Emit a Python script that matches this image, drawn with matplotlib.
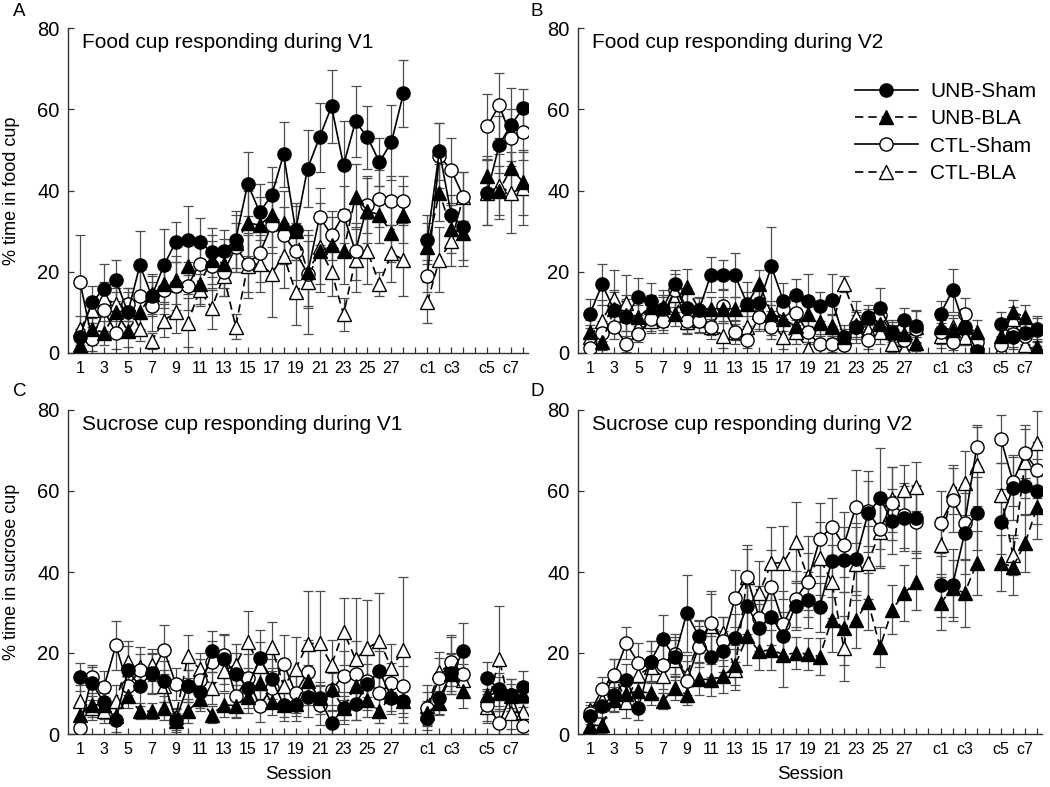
import matplotlib
matplotlib.use("Agg")
import matplotlib.pyplot as plt
from matplotlib.ticker import FixedLocator

plt.rcParams['font.family'] = ['Liberation Sans', 'DejaVu Sans']

# ---------------- data ----------------
sessions = [str(i) for i in range(1, 29)] + ['c1', 'c2', 'c3', 'c4', 'c5', 'c6', 'c7', 'c8']
tick_labels = ['1', '3', '5', '7', '9', '11', '13', '15', '17', '19', '21', '23', '25', '27',
               'c1', 'c3', 'c5', 'c7']
groups = ['UNB-Sham', 'UNB-BLA', 'CTL-Sham', 'CTL-BLA']
panel_titles = ['Food cup responding during V1', 'Food cup responding during V2',
                'Sucrose cup responding during V1', 'Sucrose cup responding during V2']
panel_letters = ['A', 'B', 'C', 'D']
ylabels = ['% time in food cup', '% time in sucrose cup']

# Panel A: food cup, V1
A_unb_sham = [4, 12.5, 15.8, 17.9, 10, 21.6, 14, 21.6, 27.3, 27.7, 27.3, 24.8, 25.2, 27.9,
              41.6, 34.7, 38.8, 48.9, 30.2, 45.4, 53.1, 60.7, 46.2, 57.0, 53.1, 47.0, 51.9, 63.9,
              27.9, 49.7, 33.9, 31.0, 39.5, 51.3, 56.2, 60.3]
A_unb_bla = [2, 6, 5, 10, 5.5, 10, 14.5, 17, 18, 21.5, 17, 23, 22, 27,
             32, 31.5, 34, 32, 30, 20, 25, 26.5, 25, 38.5, 35, 34, 29.5, 34,
             26, 39.5, 30.5, 29.5, 43.5, 40, 45.5, 42]
A_ctl_sham = [17.5, 3.5, 10.5, 5, 12, 14, 11.5, 15.5, 16.5, 16.5, 22, 21.5, 20, 26,
              22, 24.5, 31.5, 29, 25, 19.5, 33.5, 29, 34, 25, 36.5, 38, 37.5, 37.5,
              19, 48.5, 45, 38.5, 55.8, 61, 53, 54.5]
A_ctl_bla = [6, 10.5, 13.5, 12, 12, 6, 3, 8, 10, 7.5, 15.5, 11, 19, 6.5,
             21.5, 22, 19.5, 24, 15, 17.5, 26, 20, 9.5, 23, 25, 17, 24.5, 23,
             12.5, 23, 27.5, 38.5, 39.5, 41, 39.5, 40.5]
A_unb_sham_err = [2, 4, 6, 5, 5, 8.5, 5, 9, 5, 8.5, 6, 6, 5, 7, 7.8, 7, 7, 8, 6, 9.4, 8.5, 9,
                  10.8, 8.7, 7.8, 6, 9.2, 8.3, 6, 7, 5, 8, 8, 7, 9, 4.7]
A_unb_bla_err = [3, 4, 3, 5, 4, 5, 5, 6, 6, 7, 5, 6, 6, 7, 8, 7, 8, 8, 7, 9, 8, 7, 8, 8, 8, 7,
                 7, 7, 6, 7, 6, 8, 5, 6, 7, 8]
A_ctl_sham_err = [11.5, 3, 5, 4, 4, 8, 6, 6, 6, 6, 6, 6, 6, 6, 7, 7, 7, 7, 7, 8, 7, 6, 7, 7,
                  7, 7, 6, 6, 4, 8, 8, 6, 8, 8, 7, 7]
A_ctl_bla_err = [3, 3, 4, 4, 4, 3, 2, 4, 5, 6, 4, 5, 5, 3, 8, 7, 10.6, 8, 8, 12.8, 11, 6, 4, 8,
                 8, 3, 7, 9, 5, 8, 6, 6, 8, 8, 10, 9]

# Panel B: food cup, V2
B_unb_sham = [9.7, 16.9, 10.5, 8.9, 13.9, 12.8, 10.9, 16.9, 11, 10.5, 19.3, 19.3, 19.1, 12.1,
              12.3, 21.3, 12.8, 14.3, 12.8, 11.5, 13.1, 3.9, 6.5, 8.9, 11.1, 5.2, 8.2, 6.6,
              9.7, 15.4, 6.4, 0.5, 7.2, 4, 5, 6]
B_unb_bla = [5.2, 2.7, 10.9, 9.3, 8.9, 11.3, 11.3, 9.7, 16.2, 10.9, 10.9, 10.9, 10.9, 12.1,
             17, 9.7, 8.4, 6.6, 9.7, 7.6, 6.4, 3.9, 7, 8.9, 7.2, 5.2, 4.8, 2.5,
             6.4, 5.6, 6.4, 5.2, 4.3, 10.1, 8.9, 1.5]
B_ctl_sham = [1.2, 5, 6.4, 2.3, 4.6, 8.4, 8.0, 15.4, 8.0, 8.0, 6.4, 11.5, 5.2, 3.3,
              8.9, 6.4, 10.9, 9.8, 5.2, 2.1, 2.3, 1.9, 6.4, 3.1, 9.4, 4.8, 3.1, 6.0,
              5.2, 2.7, 9.5, 2.7, 1.9, 4.6, 4.3, 5.6]
B_ctl_bla = [3.9, 8.0, 13.4, 12.3, 6.4, 8.0, 9.7, 14.2, 7.6, 8.2, 6.4, 4.3, 5.2, 6.4,
             10.5, 7.4, 3.9, 5.2, 1.1, 7.4, 6.6, 16.9, 8.9, 5.6, 5.2, 2.3, 1.1, 6.4,
             4.3, 6.4, 3.9, 2.7, 1.1, 8.4, 1.9, 0.7]
B_unb_sham_err = [3.5, 5, 5, 5.5, 4.5, 4.5, 4.5, 3.5, 5, 3, 4.3, 3.5, 5.4, 5.5, 4, 9.6, 4.5, 4,
                  6.7, 3.5, 6.4, 3, 4, 2, 5, 2.5, 3, 4, 3, 5.4, 4.5, 2, 3, 3, 3, 3]
B_unb_bla_err = [3, 2, 4, 4, 3, 3, 3, 3, 4.5, 3, 3, 3, 3, 3, 3.5, 3, 3, 3, 3, 3, 3, 2, 3, 3, 3,
                 3, 2.5, 2, 3, 3, 3, 3, 3, 3, 3, 2]
B_ctl_sham_err = [2, 3, 3, 2, 2, 3, 3, 4, 3, 3, 2, 4, 2, 2, 3, 3, 3, 3, 3, 2, 2, 2, 3, 2, 3, 2,
                  2, 2, 3, 2, 4, 2, 2, 3, 2, 3]
B_ctl_bla_err = [3, 5, 7, 7, 3, 3, 4, 4, 3, 3, 3, 3, 3, 4, 5, 3, 3, 3, 1.5, 4, 3, 2, 4, 3, 3, 2,
                 1.5, 4, 3, 3, 2, 2, 1, 3, 2, 1]

# Panel C: sucrose cup, V1
C_unb_sham = [14.1, 12.5, 7.8, 3.5, 15.7, 11.8, 15.1, 13, 3.5, 11.9, 10.3, 20.4, 18.4, 14.9,
              11.4, 18.7, 13.6, 7.2, 7.2, 9.1, 8.9, 2.7, 6.4, 7.5, 12.3, 15.6, 8.9, 8.1,
              4, 8.9, 15, 20.4, 13.8, 11, 9.7, 11.6]
C_unb_bla = [4.8, 7.2, 7.2, 4.4, 9.3, 5.6, 5.6, 6.4, 3.1, 5.6, 8.6, 4.8, 7.2, 7.0,
             9.1, 12.6, 7.8, 7.2, 7.5, 13, 8.9, 11.1, 6.4, 11.9, 8.3, 5.6, 9.7, 8.1,
             5.2, 7.7, 14.8, 10.5, 9.7, 10.1, 9.3, 9.7]
C_ctl_sham = [1.6, 14.1, 11.6, 21.9, 11.9, 15.7, 14.8, 20.8, 12.4, 11.9, 13.4, 17.9, 19.6, 9.3,
              13.8, 7.0, 11.4, 17.4, 10.1, 15.2, 7.2, 10.9, 14.4, 14.9, 13, 10.1, 12.6, 11.8,
              6.4, 13.8, 17.9, 14.7, 7.2, 2.7, 9.7, 1.9]
C_ctl_bla = [8.1, 6.4, 5.6, 8.1, 17.9, 16.5, 17.1, 11.8, 4.2, 19.2, 16, 11.4, 15.6, 17.1,
             22.8, 16.8, 21.6, 11.8, 16, 22.3, 22.4, 17.1, 25.3, 18.5, 21.2, 23, 16.3, 20.8,
             7, 15.2, 17.5, 13.4, 6.7, 18.6, 5.2, 5.5]
C_unb_sham_err = [3.5, 4, 4, 3, 6, 5, 5, 5, 3, 4, 4, 5, 6, 5, 5, 7, 5, 4, 4, 5, 4, 3, 4, 4, 5,
                  5, 4, 4, 3, 4, 5, 7, 4, 4, 4, 4]
C_unb_bla_err = [3, 3, 3, 2, 3, 2, 2, 3, 2, 3, 3, 2, 3, 3, 4, 4, 3, 3, 3, 4, 3, 4, 3, 4, 4, 3,
                 4, 3, 3, 3, 5, 4, 4, 4, 3, 3]
C_ctl_sham_err = [2, 3, 4, 6, 4, 4, 5, 6, 4, 4, 5, 5, 5, 5, 6, 4, 5, 7, 5, 8, 5, 5, 6, 8, 7, 6,
                  5, 5, 4, 5, 6, 5, 4, 3, 4, 2]
C_ctl_bla_err = [4, 3, 3, 4, 5, 5, 4, 4, 2, 5.3, 4, 4, 5, 5, 7.5, 6, 6, 6, 8, 12.9, 12.8, 6,
                 8.3, 15, 12, 11.8, 6, 18, 5, 5, 7, 4, 4, 13, 4, 4]

# Panel D: sucrose cup, V2
D_unb_sham = [4.5, 7, 9.7, 13.4, 6.4, 17.9, 23.4, 19, 29.8, 24.1, 19.1, 20.4, 23.7, 31.7,
              26.1, 29.0, 24.2, 31.7, 33.1, 31.3, 42.8, 43, 43.2, 54.5, 58.2, 52.5, 53.3, 53.3,
              36.8, 36.8, 49.6, 54.5, 52.4, 60.8, 61.2, 59.9]
D_unb_bla = [1.9, 2.3, 8.5, 10, 10.5, 10.1, 8.1, 11.3, 9.7, 13.6, 13.4, 14.2, 17, 24.1,
             20.4, 20.8, 19.6, 20.0, 19.8, 19.1, 28.2, 26.1, 28.2, 32.7, 21.5, 30.7, 34.8, 37.6,
             32.3, 36, 34.8, 42.2, 42.2, 41.3, 47.1, 56.1]
D_ctl_sham = [5.2, 11.1, 14.6, 22.4, 17.5, 17.9, 17.1, 19.8, 13, 21.6, 27.4, 22.9, 33.5, 38.7,
              28.6, 36.4, 27.2, 33.3, 37.6, 48.1, 51.2, 46.7, 56.1, 55, 50.5, 57, 54, 52.4,
              52, 57.8, 52, 70.9, 72.8, 62.3, 69.3, 65.2]
D_ctl_bla = [6, 8.5, 14.6, 8, 14.6, 16.5, 14.2, 18.3, 14.6, 22.9, 26.6, 24.9, 15.9, 38.7,
             34.8, 42.2, 42.3, 47.3, 38.9, 43.4, 37.6, 21.2, 42, 42.3, 50, 58, 60.3, 61.1,
             46.6, 60.3, 62, 66.4, 59, 44.2, 67.2, 71.8]
D_unb_sham_err = [2, 3, 4, 4, 3, 5, 6, 5, 9.5, 4, 5, 5, 6, 7, 6, 7, 6, 6, 7, 6, 9, 8, 9, 8,
                  12.5, 8, 8, 8, 8, 9, 10, 9, 8, 8, 7, 8]
D_unb_bla_err = [1.5, 2, 3, 3, 3, 3, 2, 3, 2.5, 4, 4, 4, 5, 7, 4.5, 5, 8, 4, 4, 4.5, 8, 9, 7,
                 7, 5, 6, 7, 7, 6.5, 7, 8.5, 8, 7, 7, 7, 8]
D_ctl_sham_err = [2, 3, 4, 4, 5, 5, 6, 5, 5, 5, 8, 6, 7, 7, 8, 9, 8, 7, 7, 9, 7, 8, 9, 10, 9,
                  9, 8, 9, 8, 8, 9, 5, 6, 6, 6, 7]
D_ctl_bla_err = [2, 3, 4, 4, 4, 4, 4, 5, 5, 5, 8, 4, 5, 8, 8, 9, 9, 10, 10, 9, 9, 8, 9, 9, 9,
                 8, 6, 6, 7, 6, 8, 10, 8, 5, 9, 8]

panels = [
    (A_unb_sham, A_unb_bla, A_ctl_sham, A_ctl_bla, A_unb_sham_err, A_unb_bla_err, A_ctl_sham_err, A_ctl_bla_err),
    (B_unb_sham, B_unb_bla, B_ctl_sham, B_ctl_bla, B_unb_sham_err, B_unb_bla_err, B_ctl_sham_err, B_ctl_bla_err),
    (C_unb_sham, C_unb_bla, C_ctl_sham, C_ctl_bla, C_unb_sham_err, C_unb_bla_err, C_ctl_sham_err, C_ctl_bla_err),
    (D_unb_sham, D_unb_bla, D_ctl_sham, D_ctl_bla, D_unb_sham_err, D_unb_bla_err, D_ctl_sham_err, D_ctl_bla_err),
]

# ---------------- layout ----------------
# x positions: sessions 1-28, gap, c1-c4, gap, c5-c8
xpos = []
for s in sessions:
    if s.startswith('c'):
        k = int(s[1:])
        xpos.append(29 + k if k <= 4 else 30 + k)
    else:
        xpos.append(int(s))
segments = [(0, 28), (28, 32), (32, 36)]
label_pos = [xpos[sessions.index(t)] for t in tick_labels]

styles = {
    'UNB-Sham': dict(marker='o', mfc='black', ls='-', ms=9.5),
    'UNB-BLA': dict(marker='^', mfc='black', ls=(0, (5, 3)), ms=9.5),
    'CTL-Sham': dict(marker='o', mfc='white', ls='-', ms=9.5),
    'CTL-BLA': dict(marker='^', mfc='white', ls=(0, (5, 3)), ms=9.5),
}

fig = plt.figure(figsize=(10.5, 7.87), dpi=100)
W, H = 1050, 787
rects = [(68, 28, 528, 353), (578, 28, 1042, 353), (68, 410, 528, 734), (578, 410, 1042, 734)]

draw_order = [3, 2, 1, 0]
for p, (x0, y0, x1, y1) in enumerate(rects):
    ax = fig.add_axes([x0 / W, 1 - y1 / H, (x1 - x0) / W, (y1 - y0) / H])
    data = panels[p]
    for gi in draw_order:
        g = groups[gi]
        vals = data[gi]
        errs = data[gi + 4]
        st = styles[g]
        for a, b in segments:
            ax.errorbar(xpos[a:b], vals[a:b], yerr=errs[a:b], fmt='none', ecolor='#4d4d4d',
                        elinewidth=0.9, capsize=3.5, capthick=0.9, zorder=1)
            ax.plot(xpos[a:b], vals[a:b], color='black', lw=1.2, ls=st['ls'],
                    marker=st['marker'], ms=st['ms'], mfc=st['mfc'], mec='black', mew=1.0,
                    zorder=2 + (3 - gi) * 0.1 + 0.5)
    ax.set_xlim(0, 38.4)
    ax.set_ylim(0, 80)
    for sp in ['top', 'right']:
        ax.spines[sp].set_visible(False)
    for sp in ['left', 'bottom']:
        ax.spines[sp].set_color('#333333')
        ax.spines[sp].set_linewidth(1.0)
    ax.set_yticks([0, 20, 40, 60, 80])
    ax.set_xticks(label_pos)
    ax.set_xticklabels(tick_labels)
    ax.xaxis.set_minor_locator(FixedLocator(list(range(1, 39))))
    ax.tick_params(axis='x', which='both', direction='in', length=4, width=0.9,
                   color='#333333', labelsize=11.5, pad=6)
    ax.tick_params(axis='y', direction='in', length=4, width=0.9, color='#333333',
                   labelsize=14.5, pad=6)
    ax.text(0.03, 0.985, panel_titles[p], transform=ax.transAxes, ha='left', va='top',
            fontsize=15)
    fig.text((x0 - 55) / W if p % 2 == 0 else (x0 - 48) / W, 1 - 3 / H if p < 2 else 1 - 383 / H,
             panel_letters[p], ha='left', va='top', fontsize=13.5)
    if p % 2 == 0:
        ax.set_ylabel(ylabels[p // 2], fontsize=13)
        ax.yaxis.set_label_coords(-0.105, 0.5)
    if p >= 2:
        ax.set_xlabel('Session', fontsize=13.5, labelpad=6)
    if p == 1:
        handles = []
        for g in groups:
            st = styles[g]
            h, = ax.plot([], [], color='black', lw=1.2, ls=st['ls'], marker=st['marker'],
                         ms=st['ms'], mfc=st['mfc'], mec='black', mew=1.0)
            handles.append(h)
        ax.legend(handles, groups, loc='upper left', bbox_to_anchor=(855 / W, 1 - 82 / H),
                  bbox_transform=fig.transFigure, frameon=False, fontsize=15,
                  handlelength=3.0, handletextpad=0.6, labelspacing=0.4, borderpad=0,
                  borderaxespad=0)

fig.savefig('out.png', dpi=100)
